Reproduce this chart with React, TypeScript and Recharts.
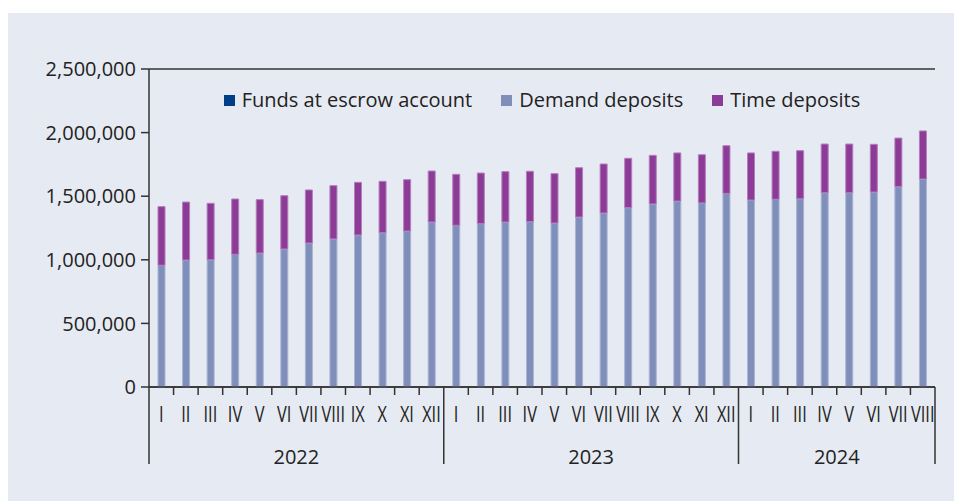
import { BarChart, Bar, XAxis, YAxis, CartesianGrid, Legend } from 'recharts';

const months = [
    'I', 'II', 'III', 'IV', 'V', 'VI', 'VII', 'VIII', 'IX', 'X', 'XI', 'XII',
    'I', 'II', 'III', 'IV', 'V', 'VI', 'VII', 'VIII', 'IX', 'X', 'XI', 'XII',
    'I', 'II', 'III', 'IV', 'V', 'VI', 'VII', 'VIII',
];
const years = ['2022', '2023', '2024'];
const monthsPerYear = [12, 12, 8];

const escrowFunds = [
    0, 0, 0, 0, 0, 0, 0, 0, 0, 0, 0, 0,
    0, 0, 0, 0, 0, 0, 0, 0, 0, 0, 0, 0,
    0, 0, 0, 0, 0, 0, 0, 0,
];
const demandDeposits = [
    957000, 998000, 1000000, 1043000, 1053000, 1085000, 1132000, 1164000, 1195000, 1213000, 1226000, 1297000,
    1271000, 1284000, 1297000, 1300000, 1289000, 1336000, 1368000, 1410000, 1439000, 1462000, 1447000, 1522000,
    1470000, 1476000, 1480000, 1527000, 1527000, 1533000, 1575000, 1635000,
];
const timeDeposits = [
    461000, 456000, 444000, 435000, 420000, 419000, 417000, 419000, 414000, 404000, 404000, 401000,
    401000, 398000, 396000, 396000, 388000, 388000, 385000, 388000, 382000, 378000, 379000, 375000,
    370000, 377000, 378000, 383000, 383000, 375000, 382000, 378000,
];
const yTicks = [0, 500000, 1000000, 1500000, 2000000, 2500000];
const legendOrder = ['Funds at escrow account', 'Demand deposits', 'Time deposits'];

const FONT = '"Open Sans", sans-serif';
const INK = '#222';
const LINE = '#333';

const data = months.map((m, i) => ({
    month: m,
    escrow: escrowFunds[i],
    demand: demandDeposits[i],
    time: timeDeposits[i],
}));

// index where each year starts
const yearStarts: number[] = [];
monthsPerYear.reduce((acc, n) => {
    yearStarts.push(acc);
    return acc + n;
}, 0);

function MonthTick(props: any) {
    const { x, y, payload, index } = props;
    const half = payload && payload.offset ? payload.offset : 12.28;
    const yearIdx = yearStarts.indexOf(index);
    const last = index === months.length - 1;
    return (
        <g>
            {index > 0 && yearIdx < 0 && (
                <line x1={x - half} x2={x - half} y1={y} y2={y + 8} stroke={LINE} strokeWidth={1.5} />
            )}
            {yearIdx >= 0 && (
                <>
                    <line x1={x - half} x2={x - half} y1={y} y2={y + 77} stroke={LINE} strokeWidth={1.5} />
                    <text
                        x={x - half + monthsPerYear[yearIdx] * half}
                        y={y + 69}
                        textAnchor="middle"
                        dominantBaseline="central"
                        fontFamily={FONT}
                        fontSize={20}
                        fill={INK}
                    >
                        {years[yearIdx]}
                    </text>
                </>
            )}
            {last && <line x1={x + half} x2={x + half} y1={y} y2={y + 77} stroke={LINE} strokeWidth={1.5} />}
            {/* condensed roman numerals, like the original */}
            <text
                transform={`translate(${x},${y + 27}) scale(0.78,1)`}
                textAnchor="middle"
                dominantBaseline="central"
                fontFamily={FONT}
                fontSize={21}
                fill={INK}
            >
                {payload.value}
            </text>
        </g>
    );
}

function LegendContent(props: any) {
    const items = [...(props.payload || [])].sort(
        (a: any, b: any) => legendOrder.indexOf(a.value) - legendOrder.indexOf(b.value)
    );
    return (
        <div style={{ display: 'flex', justifyContent: 'center', alignItems: 'center', gap: 29 }}>
            {items.map((it: any) => (
                <div key={it.value} style={{ display: 'flex', alignItems: 'center', gap: 7 }}>
                    <span style={{ width: 11, height: 11, background: it.color, display: 'inline-block' }} />
                    <span style={{ fontFamily: FONT, fontSize: 20, color: INK, lineHeight: '24px' }}>{it.value}</span>
                </div>
            ))}
        </div>
    );
}

export default function App() {
    return (
        <div style={{ width: 954, height: 488, marginTop: 5, background: '#e6eaf2' }}>
            <BarChart
                width={954}
                height={488}
                data={data}
                margin={{ top: 56, right: 27, left: 0, bottom: 0 }}
                barSize={7}
                style={{ fontFamily: FONT }}
            >
                <CartesianGrid vertical={false} stroke={LINE} strokeWidth={1.5} />
                <YAxis
                    yAxisId="left"
                    width={141}
                    domain={[0, 2500000]}
                    ticks={yTicks}
                    tickFormatter={(v: number) => v.toLocaleString('en-US')}
                    tick={{ fill: INK, fontSize: 20, fontFamily: FONT }}
                    tickSize={8}
                    tickMargin={5}
                    axisLine={{ stroke: LINE, strokeWidth: 1.5 }}
                    tickLine={{ stroke: LINE, strokeWidth: 1.5 }}
                />
                <YAxis
                    yAxisId="right"
                    orientation="right"
                    width={0}
                    domain={[0, 2500000]}
                    tick={false}
                    tickLine={false}
                    axisLine={{ stroke: LINE, strokeWidth: 1.5 }}
                />
                <XAxis
                    dataKey="month"
                    height={114}
                    interval={0}
                    tickLine={false}
                    tickSize={0}
                    tickMargin={0}
                    axisLine={{ stroke: LINE, strokeWidth: 1.5 }}
                    tick={<MonthTick />}
                />
                <Legend
                    verticalAlign="middle"
                    align="center"
                    layout="horizontal"
                    wrapperStyle={{ top: 75, left: 141, width: 786 }}
                    content={<LegendContent />}
                />
                <Bar yAxisId="left" dataKey="escrow" name="Funds at escrow account" stackId="a" fill="#003f87" isAnimationActive={false} />
                <Bar yAxisId="left" dataKey="demand" name="Demand deposits" stackId="a" fill="#7f8fba" stroke="#a9b4d6" strokeWidth={1} isAnimationActive={false} />
                <Bar yAxisId="left" dataKey="time" name="Time deposits" stackId="a" fill="#8c3c96" stroke="#b57dbd" strokeWidth={1} isAnimationActive={false} />
            </BarChart>
        </div>
    );
}
